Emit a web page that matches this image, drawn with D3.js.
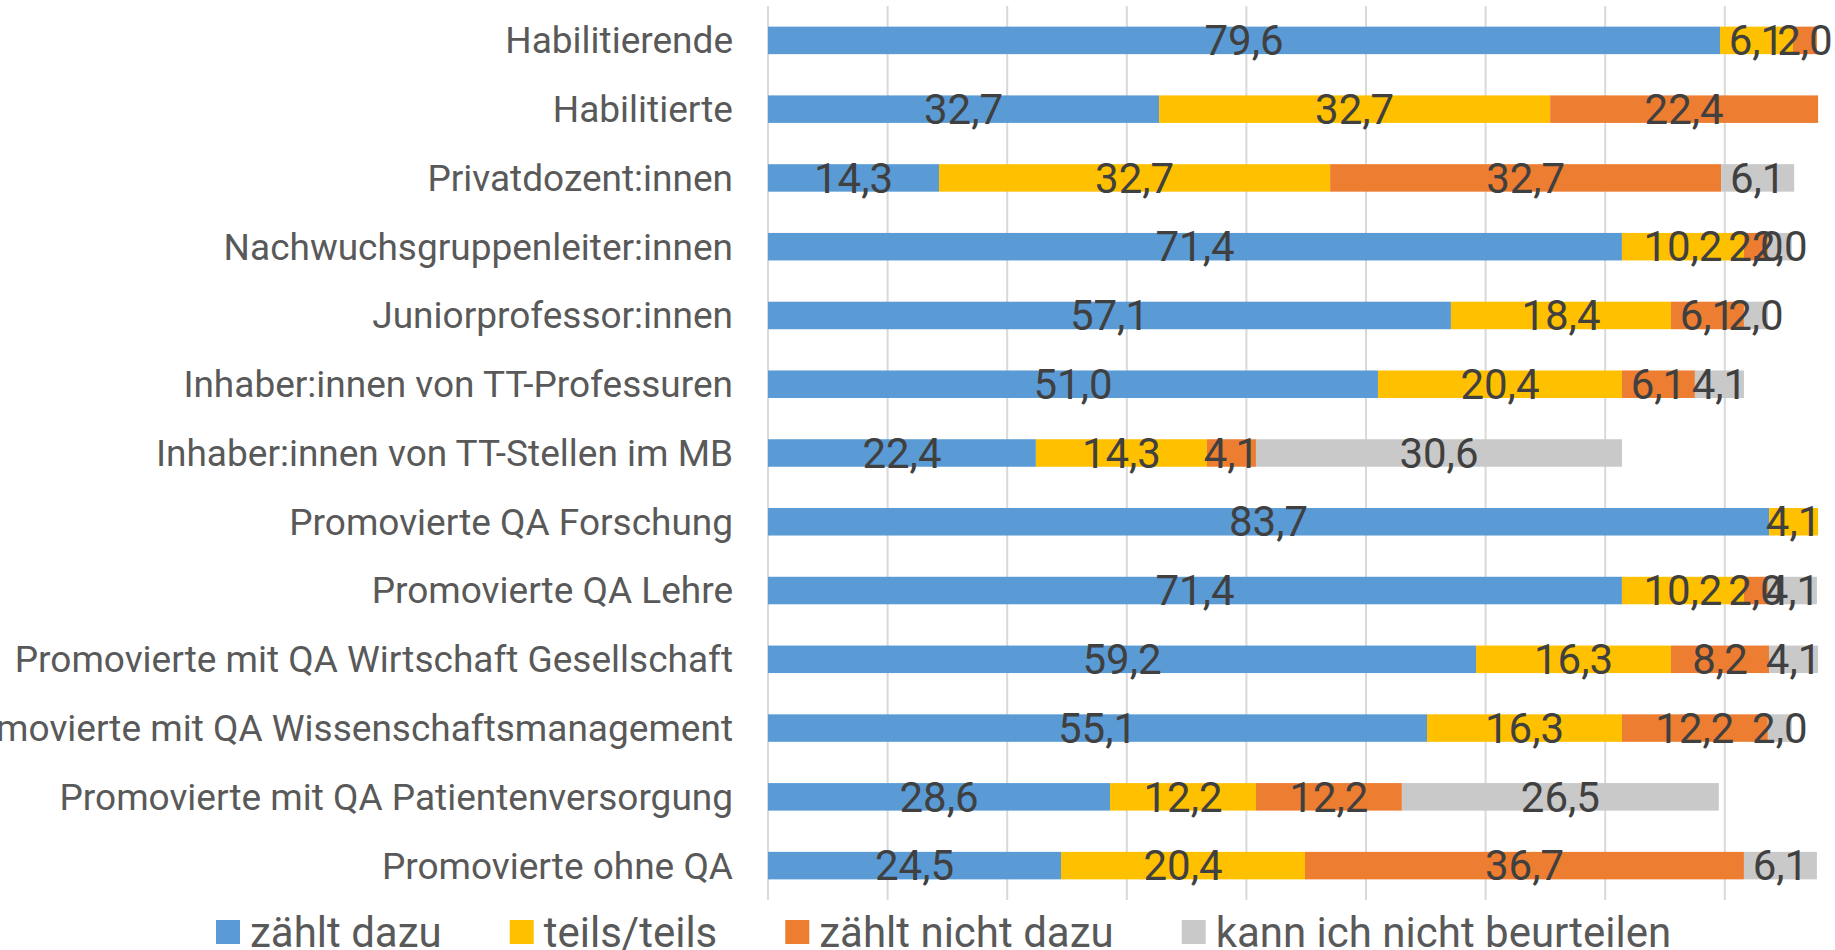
<!DOCTYPE html>
<html>
<head>
<meta charset="utf-8">
<script src="https://cdn.jsdelivr.net/npm/d3@7"></script>
<style>
  body { margin: 0; background: #fff; }
  svg { display: block; font-family: Roboto, "Noto Sans", sans-serif; }
</style>
</head>
<body>
<div id="chart"></div>
<script>
var categories = [
  "Habilitierende",
  "Habilitierte",
  "Privatdozent:innen",
  "Nachwuchsgruppenleiter:innen",
  "Juniorprofessor:innen",
  "Inhaber:innen von TT-Professuren",
  "Inhaber:innen von TT-Stellen im MB",
  "Promovierte QA Forschung",
  "Promovierte QA Lehre",
  "Promovierte mit QA Wirtschaft Gesellschaft",
  "Promovierte mit QA Wissenschaftsmanagement",
  "Promovierte mit QA Patientenversorgung",
  "Promovierte ohne QA"
];

var seriesNames = ["zählt dazu", "teils/teils", "zählt nicht dazu", "kann ich nicht beurteilen"];
var seriesColors = ["#5b9bd5", "#ffc000", "#ed7d31", "#c9c9c9"];

var zaehltDazu      = [79.6, 32.7, 14.3, 71.4, 57.1, 51.0, 22.4, 83.7, 71.4, 59.2, 55.1, 28.6, 24.5];
var teilsTeils      = [6.1, 32.7, 32.7, 10.2, 18.4, 20.4, 14.3, 4.1, 10.2, 16.3, 16.3, 12.2, 20.4];
var zaehltNicht     = [2.0, 22.4, 32.7, 2.0, 6.1, 6.1, 4.1, 0, 2.0, 8.2, 12.2, 12.2, 36.7];
var kannNicht       = [0, 0, 6.1, 2.0, 2.0, 4.1, 30.6, 0, 4.1, 4.1, 2.0, 26.5, 6.1];

var xTicks = [0, 10, 20, 30, 40, 50, 60, 70, 80, 90];

var width = 1835, height = 950;

var rows = categories.map(function(c, i) {
  return { cat: c, s0: zaehltDazu[i], s1: teilsTeils[i], s2: zaehltNicht[i], s3: kannNicht[i] };
});
var keys = ["s0", "s1", "s2", "s3"];
var stacked = d3.stack().keys(keys)(rows);

var svg = d3.select("#chart").append("svg")
  .attr("width", width)
  .attr("height", height);

var x = d3.scaleLinear().domain([0, 90]).range([768, 768 + 90 * 11.96]);
var y = d3.scaleBand().domain(categories).range([6, 900])
  .paddingInner(0.6).paddingOuter(0.3);

// gridlines
svg.append("g").selectAll("line")
  .data(xTicks)
  .enter().append("line")
  .attr("x1", d => x(d)).attr("x2", d => x(d))
  .attr("y1", 6).attr("y2", 900)
  .attr("stroke", "#d9d9d9")
  .attr("stroke-width", 2);

// bars
var layer = svg.append("g").selectAll("g")
  .data(stacked)
  .enter().append("g")
  .attr("fill", (d, i) => seriesColors[i]);

layer.selectAll("rect")
  .data(d => d)
  .enter().append("rect")
  .attr("x", d => x(d[0]))
  .attr("y", d => y(d.data.cat))
  .attr("width", d => x(d[1]) - x(d[0]))
  .attr("height", y.bandwidth());

// category labels
svg.append("g").selectAll("text")
  .data(categories)
  .enter().append("text")
  .attr("x", 733)
  .attr("y", d => y(d) + y.bandwidth() / 2)
  .attr("dy", "0.35em")
  .attr("text-anchor", "end")
  .attr("font-size", 37)
  .attr("fill", "#595959")
  .text(d => d);

// data labels
var fmt = v => d3.format(".1f")(v).replace(".", ",");
var labels = [];
stacked.forEach(function(s) {
  s.forEach(function(d) {
    if (d[1] - d[0] > 0) labels.push(d);
  });
});
svg.append("g").selectAll("text")
  .data(labels)
  .enter().append("text")
  .attr("x", d => (x(d[0]) + x(d[1])) / 2)
  .attr("y", d => y(d.data.cat) + y.bandwidth() / 2)
  .attr("dy", "0.35em")
  .attr("text-anchor", "middle")
  .attr("font-size", 42)
  .attr("fill", "#404040")
  .text(d => fmt(d[1] - d[0]));

// legend
var legend = svg.append("g");
var lx = 216;
seriesNames.forEach(function(name, i) {
  legend.append("rect")
    .attr("x", lx).attr("y", 920)
    .attr("width", 24).attr("height", 24)
    .attr("fill", seriesColors[i]);
  var t = legend.append("text")
    .attr("x", lx + 34)
    .attr("y", 932)
    .attr("dy", "0.35em")
    .attr("font-size", 42)
    .attr("fill", "#595959")
    .text(name);
  lx += 34 + t.node().getComputedTextLength() + 68;
});
</script>
</body>
</html>
